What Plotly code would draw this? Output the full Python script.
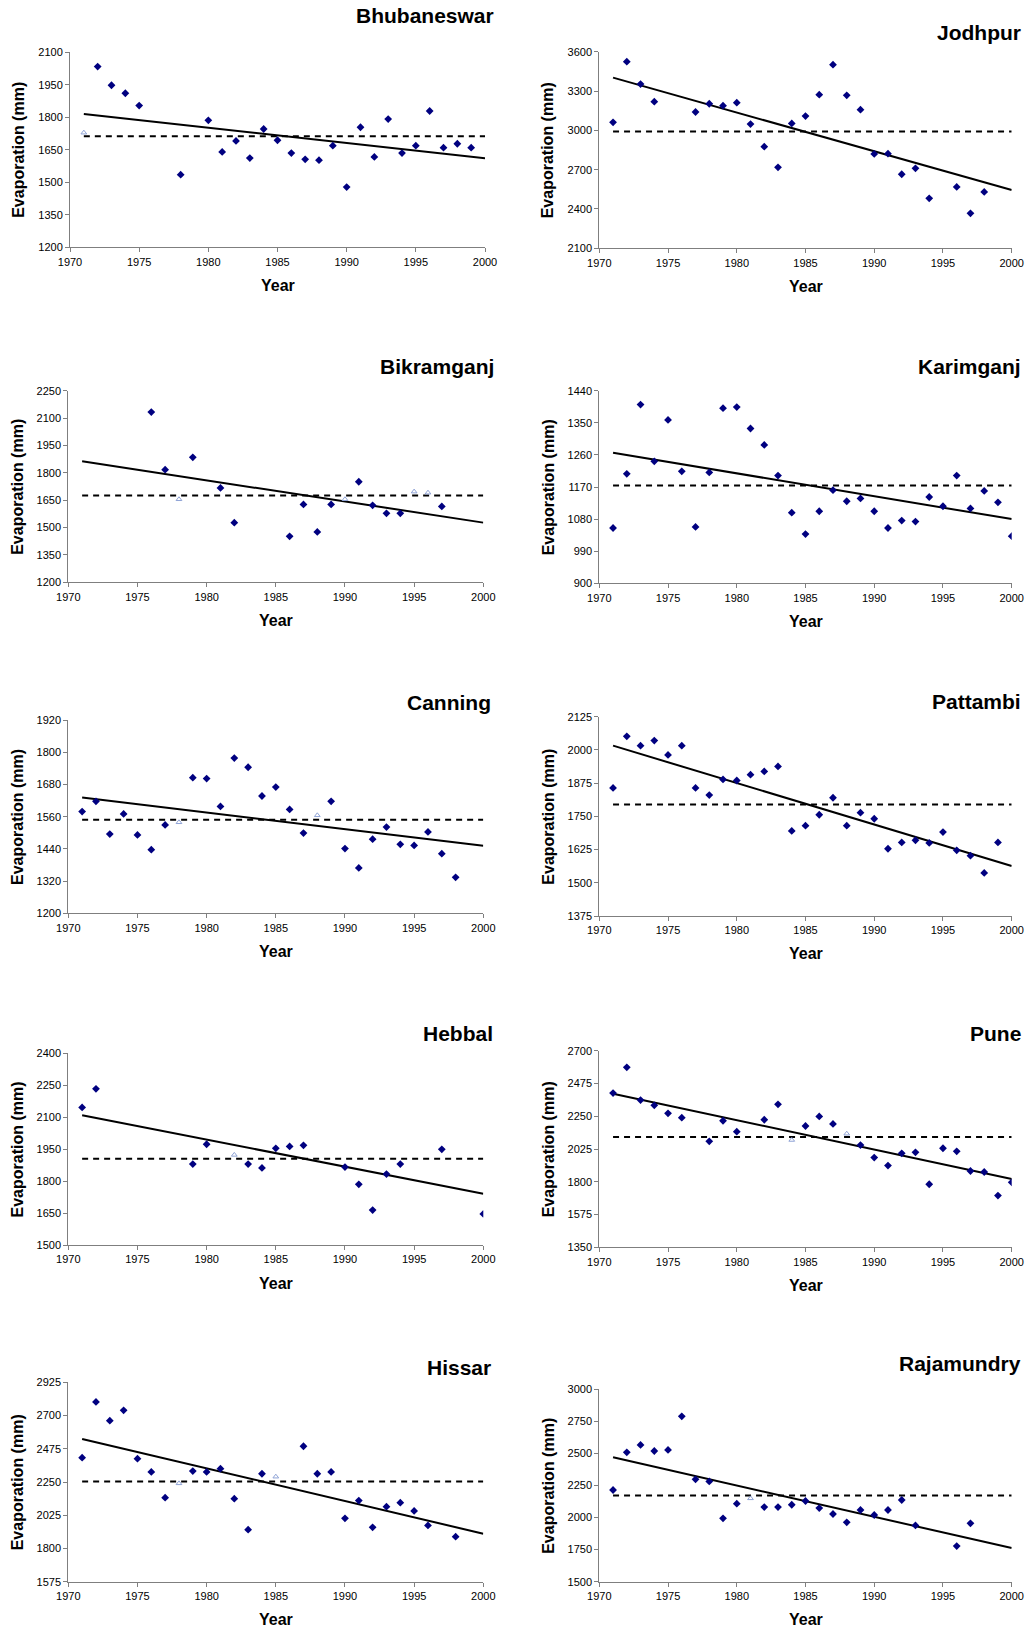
import plotly.graph_objects as go

W, H = 1029, 1629

# ---------------- data ----------------
station_names = ["Bhubaneswar", "Jodhpur", "Bikramganj", "Karimganj", "Canning",
                 "Pattambi", "Hebbal", "Pune", "Hissar", "Rajamundry"]

bhu_years = [1972, 1973, 1974, 1975, 1978, 1980, 1981, 1982, 1983, 1984, 1985, 1986, 1987,
             1988, 1989, 1990, 1991, 1992, 1993, 1994, 1995, 1996, 1997, 1998, 1999]
bhu_evap = [2034, 1948, 1911, 1854, 1535, 1786, 1640, 1691, 1612, 1746, 1694, 1635, 1606,
            1602, 1669, 1478, 1754, 1617, 1792, 1635, 1669, 1829, 1660, 1678, 1660]
bhu_faint_years = [1971]
bhu_faint_evap = [1729]

jod_years = [1971, 1972, 1973, 1974, 1977, 1978, 1979, 1980, 1981, 1982, 1983, 1984, 1985,
             1986, 1987, 1988, 1989, 1990, 1991, 1992, 1993, 1994, 1996, 1997, 1998]
jod_evap = [3061, 3524, 3353, 3219, 3140, 3203, 3188, 3211, 3048, 2875, 2718, 3053, 3109,
            3272, 3501, 3267, 3158, 2820, 2822, 2665, 2710, 2481, 2568, 2367, 2530]
jod_faint_years = []
jod_faint_evap = []

bik_years = [1976, 1977, 1979, 1981, 1982, 1986, 1987, 1988, 1989, 1991, 1992, 1993, 1994, 1997]
bik_evap = [2133, 1817, 1885, 1717, 1527, 1452, 1627, 1476, 1627, 1751, 1622, 1578, 1578, 1616]
bik_faint_years = [1978, 1990, 1995, 1996]
bik_faint_evap = [1655, 1655, 1697, 1691]

kar_years = list(range(1971, 2001))
kar_evap = [1055, 1207, 1401, 1242, 1358, 1214, 1058, 1211, 1391, 1394, 1334, 1288, 1202,
            1098, 1038, 1102, 1161, 1130, 1138, 1102, 1055, 1076, 1073, 1142, 1116, 1202,
            1110, 1159, 1127, 1032]
kar_faint_years = []
kar_faint_evap = []

can_years = [1971, 1972, 1973, 1974, 1975, 1976, 1977, 1979, 1980, 1981, 1982, 1983, 1984,
             1985, 1986, 1987, 1989, 1990, 1991, 1992, 1993, 1994, 1995, 1996, 1997, 1998]
can_evap = [1579, 1617, 1495, 1570, 1492, 1437, 1529, 1705, 1702, 1598, 1778, 1744, 1637,
            1670, 1587, 1499, 1617, 1441, 1369, 1476, 1521, 1457, 1453, 1503, 1422, 1334]
can_faint_years = [1978, 1988]
can_faint_evap = [1539, 1565]

pat_years = list(range(1971, 2000))
pat_evap = [1857, 2051, 2016, 2035, 1981, 2016, 1857, 1830, 1889, 1885, 1907, 1919, 1938,
            1695, 1715, 1756, 1820, 1715, 1764, 1741, 1628, 1652, 1660, 1650, 1691, 1622,
            1602, 1537, 1652]
pat_faint_years = []
pat_faint_evap = []

heb_years = [1971, 1972, 1979, 1980, 1983, 1984, 1985, 1986, 1987, 1990, 1991, 1992, 1993,
             1994, 1997, 2000]
heb_evap = [2146, 2233, 1880, 1973, 1880, 1862, 1954, 1963, 1968, 1866, 1785, 1664, 1833,
            1880, 1949, 1646]
heb_faint_years = [1982]
heb_faint_evap = [1923]

pun_years = [1971, 1972, 1973, 1974, 1975, 1976, 1978, 1979, 1980, 1982, 1983, 1985, 1986,
             1987, 1989, 1990, 1991, 1992, 1993, 1994, 1995, 1996, 1997, 1998, 1999, 2000]
pun_evap = [2409, 2586, 2361, 2325, 2270, 2240, 2078, 2219, 2144, 2226, 2332, 2183, 2249,
            2197, 2052, 1966, 1911, 1995, 2002, 1783, 2030, 2009, 1874, 1867, 1705, 1796]
pun_faint_years = [1984, 1988]
pun_faint_evap = [2087, 2130]

his_years = [1971, 1972, 1973, 1974, 1975, 1976, 1977, 1979, 1980, 1981, 1982, 1983, 1984,
             1987, 1988, 1989, 1990, 1991, 1992, 1993, 1994, 1995, 1996, 1998]
his_evap = [2415, 2792, 2665, 2735, 2408, 2318, 2144, 2324, 2318, 2340, 2137, 1927, 2306,
            2492, 2306, 2318, 2004, 2124, 1943, 2083, 2110, 2054, 1956, 1880]
his_faint_years = [1978, 1985]
his_faint_evap = [2241, 2286]

raj_years = [1971, 1972, 1973, 1974, 1975, 1976, 1977, 1978, 1979, 1980, 1982, 1983, 1984,
             1985, 1986, 1987, 1988, 1989, 1990, 1991, 1992, 1993, 1996, 1997]
raj_evap = [2215, 2509, 2566, 2519, 2527, 2789, 2298, 2282, 1994, 2108, 2082, 2082, 2100,
            2129, 2074, 2028, 1963, 2059, 2020, 2059, 2137, 1939, 1778, 1955]
raj_faint_years = [1981]
raj_faint_evap = [2150]

# trend line values at 1971 and 2000, and long-term mean
trend_years = [1971, 2000]
trend_start = [1815, 3402, 1863, 1266, 1631, 2016, 2109, 2405, 2541, 2470]
trend_end = [1611, 2545, 1527, 1080, 1452, 1563, 1741, 1819, 1900, 1762]
mean_evap = [1712, 2992, 1675, 1174, 1548, 1795, 1905, 2107, 2254, 2173]

# y-axis tick ranges (min, max, step)
y_min = [1200, 2100, 1200, 900, 1200, 1375, 1500, 1350, 1575, 1500]
y_max = [2100, 3600, 2250, 1440, 1920, 2125, 2400, 2700, 2925, 3000]
y_step = [150, 300, 150, 90, 120, 125, 150, 225, 225, 250]

x_ticks = [1970, 1975, 1980, 1985, 1990, 1995, 2000]

series = [
    (bhu_years, bhu_evap, bhu_faint_years, bhu_faint_evap),
    (jod_years, jod_evap, jod_faint_years, jod_faint_evap),
    (bik_years, bik_evap, bik_faint_years, bik_faint_evap),
    (kar_years, kar_evap, kar_faint_years, kar_faint_evap),
    (can_years, can_evap, can_faint_years, can_faint_evap),
    (pat_years, pat_evap, pat_faint_years, pat_faint_evap),
    (heb_years, heb_evap, heb_faint_years, heb_faint_evap),
    (pun_years, pun_evap, pun_faint_years, pun_faint_evap),
    (his_years, his_evap, his_faint_years, his_faint_evap),
    (raj_years, raj_evap, raj_faint_years, raj_faint_evap),
]

# ---------------- layout (pixel boxes: x0, x1, ytop, ybottom) ----------------
boxes = [
    (70.0, 485.0, 52.3, 247.3),
    (599.3, 1011.7, 51.7, 248.3),
    (68.3, 483.3, 390.7, 582.3),
    (599.3, 1011.7, 390.7, 583.3),
    (68.3, 483.3, 720.0, 913.3),
    (599.3, 1011.7, 716.7, 916.0),
    (68.3, 483.3, 1053.3, 1245.0),
    (599.3, 1011.7, 1050.7, 1247.3),
    (68.3, 483.3, 1382.3, 1581.7),
    (599.3, 1011.7, 1389.3, 1581.7),
]
title_pos = [
    (496, 16), (1023, 33), (496, 367), (1023, 367), (493, 702),
    (1023, 701), (495, 1033), (1023, 1033), (493, 1367), (1023, 1363),
]

FONT = "Liberation Sans, Arial, sans-serif"
MARKER_COLOR = "#000080"
AXIS_COLOR = "#7f7f7f"

fig = go.Figure()
annotations = []
layout_axes = {}

def px(x):
    return x / W

def py(y):
    return 1 - y / H

for i, name in enumerate(station_names):
    n = i + 1
    xa = "x" if n == 1 else f"x{n}"
    ya = "y" if n == 1 else f"y{n}"
    xs, ys, fx, fy = series[i]
    x0, x1, yt, yb = boxes[i]

    # mean (dashed)
    fig.add_trace(go.Scatter(x=trend_years, y=[mean_evap[i], mean_evap[i]], mode="lines",
                             line=dict(color="black", width=2, dash="6px,5px"),
                             xaxis=xa, yaxis=ya, showlegend=False, hoverinfo="skip"))
    # trend line
    fig.add_trace(go.Scatter(x=trend_years, y=[trend_start[i], trend_end[i]], mode="lines",
                             line=dict(color="black", width=2),
                             xaxis=xa, yaxis=ya, showlegend=False, hoverinfo="skip"))
    # faint (partially rendered) points
    if fx:
        fig.add_trace(go.Scatter(x=fx, y=fy, mode="markers",
                                 marker=dict(symbol="triangle-up-open", size=5,
                                             color="#8fa3d6", line=dict(width=1)),
                                 xaxis=xa, yaxis=ya, showlegend=False))
    # observed points
    fig.add_trace(go.Scatter(x=xs, y=ys, mode="markers",
                             marker=dict(symbol="diamond", size=6, color=MARKER_COLOR,
                                         line=dict(width=0)),
                             xaxis=xa, yaxis=ya, showlegend=False, name=name))

    ticks_y = list(range(y_min[i], y_max[i] + 1, y_step[i]))
    layout_axes["xaxis" if n == 1 else f"xaxis{n}"] = dict(
        domain=[px(x0), px(x1)], anchor=ya, range=[1970, 2000], automargin=False,
        tickvals=x_ticks, ticks="outside", ticklen=4, tickcolor=AXIS_COLOR,
        showline=True, linecolor=AXIS_COLOR, linewidth=1, showgrid=False, zeroline=False,
        tickfont=dict(family=FONT, size=11, color="black"), fixedrange=True,
    )
    layout_axes["yaxis" if n == 1 else f"yaxis{n}"] = dict(
        domain=[py(yb), py(yt)], anchor=xa, range=[y_min[i], y_max[i]], automargin=False,
        tickvals=ticks_y, ticks="outside", ticklen=4, tickcolor=AXIS_COLOR,
        showline=True, linecolor=AXIS_COLOR, linewidth=1, showgrid=False, zeroline=False,
        tickfont=dict(family=FONT, size=11, color="black"), fixedrange=True,
    )

    tx, ty = title_pos[i]
    annotations.append(dict(text=name, x=px(tx), y=py(ty), xref="paper", yref="paper",
                            xanchor="right", yanchor="middle", showarrow=False,
                            font=dict(family=FONT, size=21, color="black", weight="bold")))
    annotations.append(dict(text="Year", x=px((x0 + x1) / 2), y=py(yb + 38), xref="paper",
                            yref="paper", xanchor="center", yanchor="middle", showarrow=False,
                            font=dict(family=FONT, size=16, color="black", weight="bold")))
    annotations.append(dict(text="Evaporation (mm)", x=px(x0 - 51), y=py((yt + yb) / 2),
                            xref="paper", yref="paper", xanchor="center", yanchor="middle",
                            textangle=-90, showarrow=False,
                            font=dict(family=FONT, size=16, color="black", weight="bold")))

fig.update_layout(
    width=W, height=H, autosize=False,
    margin=dict(l=0, r=0, t=0, b=0, autoexpand=False),
    paper_bgcolor="white", plot_bgcolor="white",
    showlegend=False, annotations=annotations,
    **layout_axes,
)

fig.write_html("out.html", config={"displayModeBar": False},
               post_script="document.body.style.margin='0';")
